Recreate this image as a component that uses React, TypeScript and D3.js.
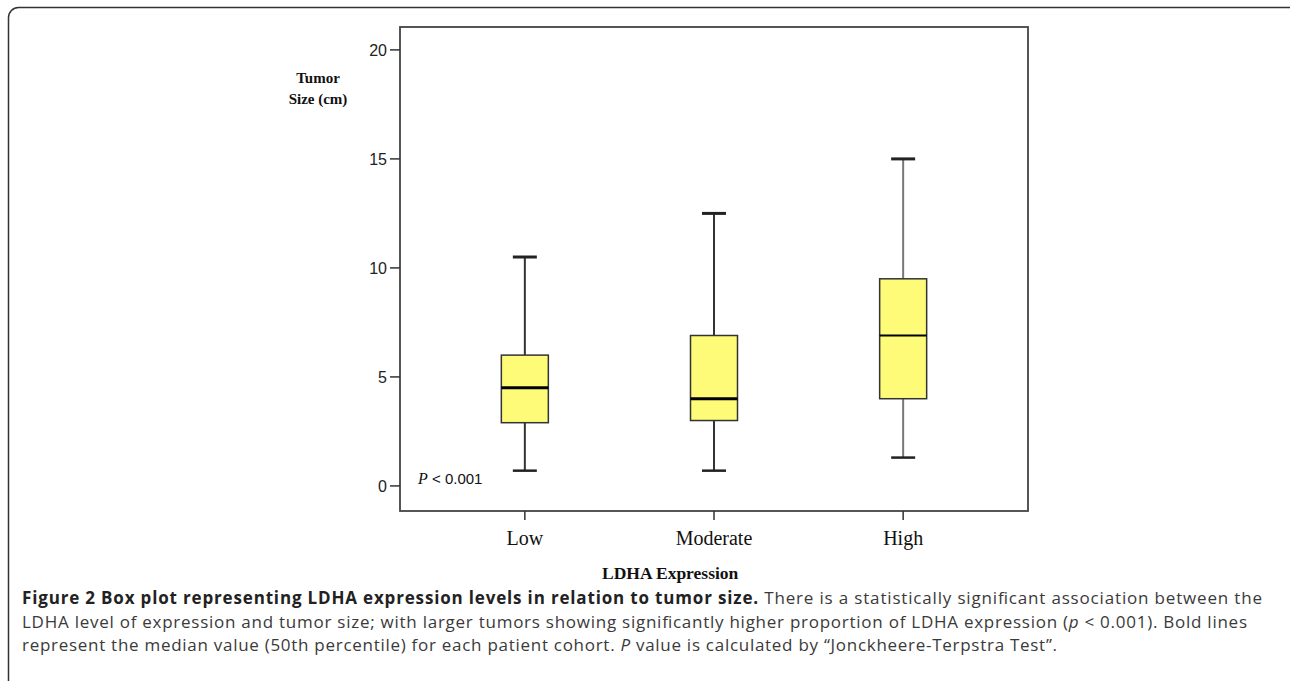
import { useMemo } from 'react';
import * as d3 from 'd3';

const W = 1290;
const H = 681;

const groups = ['Low', 'Moderate', 'High'];
const whiskerLow = [0.7, 0.7, 1.3];
const q1 = [2.9, 3.0, 4.0];
const median = [4.5, 4.0, 6.9];
const q3 = [6.0, 6.9, 9.5];
const whiskerHigh = [10.5, 12.5, 15.0];
const yTicks = [0, 5, 10, 15, 20];

const plot = { left: 400, right: 1028, top: 27, bottom: 511 };
const serif = '"Liberation Serif", "Times New Roman", serif';
const sans = '"Liberation Sans", Arial, sans-serif';
const capFont = '"Open Sans", "Noto Sans", sans-serif';

export default function App() {
  const y = useMemo(
    () => d3.scaleLinear().domain([-1.15, 21.05]).range([plot.bottom, plot.top]),
    [],
  );
  const x = useMemo(
    () => d3.scalePoint<string>().domain(groups).range([plot.left, plot.right]).padding(0.66),
    [],
  );
  const boxW = 47;
  const capW = 24;

  return (
    <svg width={W} height={H} style={{ position: 'absolute', left: 0, top: 0, background: '#fff' }}>
      {/* figure frame */}
      <rect x={8.5} y={7.5} width={W + 10} height={H + 20} rx={10} fill="none" stroke="#333" strokeWidth={1.5} />

      {/* plot frame */}
      <rect x={plot.left} y={plot.top} width={plot.right - plot.left} height={plot.bottom - plot.top}
        fill="#fff" stroke="#444" strokeWidth={1.8} />

      {/* y axis */}
      {yTicks.map(t => (
        <g key={t}>
          <line x1={plot.left - 10} x2={plot.left} y1={y(t)} y2={y(t)} stroke="#333" strokeWidth={1.5} />
          <text x={plot.left - 13} y={y(t)} dy="0.36em" textAnchor="end" fontFamily={sans} fontSize={16} fill="#222">{t}</text>
        </g>
      ))}

      {/* x axis */}
      {groups.map(g => (
        <g key={g}>
          <line x1={x(g)} x2={x(g)} y1={plot.bottom} y2={plot.bottom + 9} stroke="#333" strokeWidth={1.5} />
          <text x={x(g)} y={545} textAnchor="middle" fontFamily={serif} fontSize={20} fill="#111">{g}</text>
        </g>
      ))}

      {/* boxes */}
      {groups.map((g, i) => {
        const cx = x(g) as number;
        const whiskerColor = i === 2 ? '#777' : '#333';
        return (
          <g key={g}>
            <line x1={cx} x2={cx} y1={y(whiskerHigh[i])} y2={y(q3[i])} stroke={whiskerColor} strokeWidth={2} />
            <line x1={cx} x2={cx} y1={y(q1[i])} y2={y(whiskerLow[i])} stroke={whiskerColor} strokeWidth={2} />
            <line x1={cx - capW / 2} x2={cx + capW / 2} y1={y(whiskerHigh[i])} y2={y(whiskerHigh[i])} stroke="#222" strokeWidth={3} />
            <line x1={cx - capW / 2} x2={cx + capW / 2} y1={y(whiskerLow[i])} y2={y(whiskerLow[i])} stroke="#222" strokeWidth={2.5} />
            <rect x={cx - boxW / 2} y={y(q3[i])} width={boxW} height={y(q1[i]) - y(q3[i])}
              fill="#fdfb78" stroke="#333" strokeWidth={1.5} />
            <line x1={cx - boxW / 2} x2={cx + boxW / 2} y1={y(median[i])} y2={y(median[i])} stroke="#000"
              strokeWidth={i === 2 ? 2 : 3} />
          </g>
        );
      })}

      {/* p value */}
      <text x={418} y={484} fontFamily={sans} fontSize={15} fill="#111">
        <tspan fontStyle="italic" fontFamily={serif} fontSize={16}>P</tspan> &lt; 0.001
      </text>

      {/* axis titles */}
      <text x={318} y={83} textAnchor="middle" fontFamily={serif} fontSize={15} fontWeight="bold" fill="#111">Tumor</text>
      <text x={318} y={104} textAnchor="middle" fontFamily={serif} fontSize={15} fontWeight="bold" fill="#111">Size (cm)</text>
      <text x={602} y={579} fontFamily={serif} fontSize={17.5} fontWeight="bold" fill="#111">LDHA Expression</text>

      {/* caption */}
      <g fontFamily={capFont} fontSize={17} fill="#3a3a3a">
        <text x={22} y={604} textLength={1240} lengthAdjust="spacing">
          <tspan fontWeight="bold" fill="#222">Figure 2 Box plot representing LDHA expression levels in relation to tumor size.</tspan>
          {' There is a statistically significant association between the'}
        </text>
        <text x={22} y={627.5} textLength={1225} lengthAdjust="spacing">
          {'LDHA level of expression and tumor size; with larger tumors showing significantly higher proportion of LDHA expression ('}
          <tspan fontStyle="italic">p</tspan>
          {' < 0.001). Bold lines'}
        </text>
        <text x={22} y={651} textLength={1035} lengthAdjust="spacing">
          {'represent the median value (50th percentile) for each patient cohort. '}
          <tspan fontStyle="italic">P</tspan>
          {' value is calculated by \u201cJonckheere-Terpstra Test\u201d.'}
        </text>
      </g>
    </svg>
  );
}
